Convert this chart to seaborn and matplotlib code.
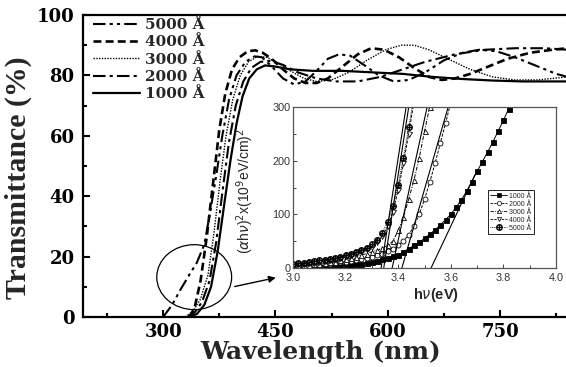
import matplotlib
matplotlib.use('Agg')
import matplotlib.pyplot as plt
import seaborn as sns
import pandas as pd
from matplotlib.patches import Ellipse
from matplotlib.lines import Line2D
from matplotlib.ticker import MultipleLocator

# ---------------- main panel data: transmittance vs wavelength ----------------
labels = ['5000 Å', '4000 Å', '3000 Å', '2000 Å', '1000 Å']

wl_5000 = [300, 312, 323, 335, 345, 355, 363, 371, 379, 388, 398, 410, 422, 432, 445, 460, 475, 490, 505,
           520, 535, 550, 568, 588, 608, 628, 650, 675, 700, 722, 745, 770, 800, 825, 840]
T_5000 = [0, 4, 9, 14, 18, 24, 35, 47, 60, 72, 80, 84.5, 86.3, 86, 83, 79, 77, 78, 81.5,
          85.5, 87, 86.5, 83.5, 80, 78, 78.5, 81, 85, 87.5, 88.5, 88, 86, 83, 80.5, 79.5]

wl_4000 = [335, 342, 350, 358, 367, 375, 383, 392, 402, 413, 423, 433, 445, 460, 475, 490, 505, 520, 540,
           560, 578, 595, 615, 635, 655, 672, 690, 710, 735, 760, 790, 820, 840]
T_4000 = [0, 3, 12, 26, 45, 62, 74, 82, 86, 88, 88.3, 87.5, 85.5, 82, 79, 77.5, 77.5, 79, 83,
          87, 89, 88.5, 86, 82.5, 79.5, 78.5, 79, 80.5, 83, 85.5, 87.5, 88.5, 89]

wl_3000 = [330, 340, 350, 360, 368, 376, 384, 393, 403, 414, 426, 438, 455, 470, 488, 505, 525, 548, 572,
           597, 618, 635, 655, 680, 710, 740, 770, 800, 840]
T_3000 = [0, 2, 6, 14, 28, 45, 60, 72, 80, 84.5, 86.3, 86, 84, 81.5, 79, 78, 78.5, 81, 85,
          88.5, 90, 90, 88.5, 85.5, 82, 79.5, 78.5, 78.5, 79.5]

wl_2000 = [332, 342, 352, 362, 371, 380, 388, 397, 407, 418, 430, 442, 460, 480, 505, 530, 560, 590, 620,
           650, 690, 730, 770, 810, 840]
T_2000 = [0, 1.5, 5, 12, 25, 43, 58, 70, 78, 82.5, 84.5, 84.8, 83.5, 81, 79, 78, 78, 79.5, 82,
          84.5, 87, 88.5, 89, 89, 88.5]

wl_1000 = [335, 345, 355, 364, 373, 382, 390, 398, 406, 415, 425, 436, 448, 470, 500, 540, 580, 620, 660,
           700, 740, 780, 820, 840]
T_1000 = [0, 1, 4, 10, 22, 38, 52, 64, 73, 79, 82, 83.3, 83, 82, 81.5, 81.5, 81, 80.5, 79.5,
          78.8, 78.3, 78, 78, 78]

main_wl = [wl_5000, wl_4000, wl_3000, wl_2000, wl_1000]
main_T = [T_5000, T_4000, T_3000, T_2000, T_1000]
main_styles = [(0, (6, 2, 1.5, 2, 1.5, 2)), (0, (3, 1.6)), (0, (1, 1)), (0, (6, 2, 1.5, 2)), '-']
main_lw = [1.5, 1.9, 1.0, 1.5, 1.6]

x_ticks = [300, 450, 600, 750]
y_ticks = [0, 20, 40, 60, 80, 100]

# circle / arrow annotation (data coords)
circle_center = (341.5, 13.2)
circle_size = (100, 21.5)
arrow_tail = (392, 9.9)
arrow_head = (454, 13.2)

# ---------------- inset data: (alpha h nu)^2 vs h nu ----------------
inset_labels = ['1000 Å', '2000 Å', '3000 Å', '4000 Å', '5000 Å']

hv_1000 = [3.00, 3.02, 3.04, 3.06, 3.08, 3.10, 3.12, 3.14, 3.16, 3.18, 3.20, 3.22, 3.24, 3.26, 3.28, 3.30,
           3.32, 3.34, 3.36, 3.38, 3.40, 3.42, 3.44, 3.46, 3.48, 3.50, 3.52, 3.54, 3.56, 3.58, 3.60, 3.62,
           3.64, 3.66, 3.68, 3.70, 3.72, 3.74, 3.76, 3.78, 3.80, 3.82, 3.84]
a_1000 = [1, 1, 1.5, 1.5, 2, 2, 2.5, 3, 3.5, 4, 5, 6, 7, 8, 9.5, 11,
          13, 16, 19, 22, 25, 30, 36, 42, 48, 55, 63, 71, 80, 90, 100, 113,
          127, 143, 161, 180, 198, 216, 235, 255, 275, 297, 318]

hv_2000 = [3.00, 3.02, 3.04, 3.06, 3.08, 3.10, 3.12, 3.14, 3.16, 3.18, 3.20, 3.22, 3.24, 3.26, 3.28, 3.30,
           3.32, 3.34, 3.36, 3.38, 3.40, 3.42, 3.44, 3.46, 3.48, 3.50, 3.52, 3.54, 3.56, 3.58, 3.60]
a_2000 = [3, 3.5, 4, 4.5, 5, 6, 7, 8, 9, 10.5, 12, 13.5, 15, 17, 19, 21,
          24, 27, 31, 36, 42, 50, 62, 78, 100, 128, 160, 195, 232, 270, 308]

hv_3000 = [3.00, 3.02, 3.04, 3.06, 3.08, 3.10, 3.12, 3.14, 3.16, 3.18, 3.20, 3.22, 3.24, 3.26, 3.28, 3.30,
           3.32, 3.34, 3.36, 3.38, 3.40, 3.42, 3.44, 3.46, 3.48, 3.50, 3.52, 3.54]
a_3000 = [4, 4.5, 5, 6, 7, 8, 9, 10.5, 12, 14, 16, 18, 21, 24, 27, 30,
          33, 37, 42, 50, 70, 95, 128, 164, 205, 255, 300, 345]

hv_4000 = [3.00, 3.02, 3.04, 3.06, 3.08, 3.10, 3.12, 3.14, 3.16, 3.18, 3.20, 3.22, 3.24, 3.26, 3.28, 3.30,
           3.32, 3.34, 3.36, 3.38, 3.40, 3.42, 3.44, 3.46]
a_4000 = [6, 7, 8, 9, 10, 11.5, 13, 15, 17, 19.5, 22, 25, 28, 31, 35, 40,
          48, 60, 78, 105, 145, 195, 250, 310]

hv_5000 = [3.00, 3.02, 3.04, 3.06, 3.08, 3.10, 3.12, 3.14, 3.16, 3.18, 3.20, 3.22, 3.24, 3.26, 3.28, 3.30,
           3.32, 3.34, 3.36, 3.38, 3.40, 3.42, 3.44, 3.46]
a_5000 = [8, 9, 10, 11, 12.5, 14, 15.5, 17, 19, 21, 24, 27, 30, 34, 38, 44,
          53, 66, 86, 115, 155, 205, 262, 320]

inset_hv = [hv_1000, hv_2000, hv_3000, hv_4000, hv_5000]
inset_a = [a_1000, a_2000, a_3000, a_4000, a_5000]
inset_markers = ['s', 'o', '^', 'v', r'$\oplus$']
inset_fill = ['black', 'white', 'white', 'white', 'black']
inset_styles = ['-', (0, (3, 1.5)), (0, (4, 1.5, 1, 1.5)), (0, (3, 1.5)), (0, (1, 1))]

# linear extrapolation lines (band-gap fits): start/end hv and values
fit_hv0 = [3.525, 3.414, 3.377, 3.345, 3.335]
fit_hv1 = [3.70, 3.59, 3.51, 3.44, 3.43]
fit_a0 = [0, 0, 0, 0, 0]
fit_a1 = [182, 300, 300, 300, 300]

# ---------------- figure ----------------
sns.set_theme(style='ticks')
plt.rcParams['font.family'] = ['DejaVu Serif', 'DejaVu Sans']
plt.rcParams['mathtext.fontset'] = 'dejavusans'

fig = plt.figure(figsize=(5.66, 3.67), dpi=100)
fig.patch.set_facecolor('white')
ax = fig.add_axes([83 / 566, 50 / 367, 483 / 566, 302 / 367])
ax.set_facecolor('white')

for wl, T, ls, lw in zip(main_wl, main_T, main_styles, main_lw):
    df = pd.DataFrame({'wl': wl, 'T': T})
    sns.lineplot(data=df, x='wl', y='T', ax=ax, color='black', linestyle=ls, lw=lw,
                 estimator=None, sort=False)

ax.set_xlim(193, 838)
ax.set_ylim(0, 100)
ax.set_xticks(x_ticks)
ax.set_yticks(y_ticks)
ax.xaxis.set_minor_locator(MultipleLocator(75))
ax.yaxis.set_minor_locator(MultipleLocator(10))
ax.tick_params(which='both', direction='in', width=1.5, colors='black', labelsize=13)
ax.tick_params(axis='x', which='both', pad=4)
ax.tick_params(axis='y', which='both', pad=6)
ax.tick_params(which='major', length=5)
ax.tick_params(which='minor', length=3)
for lab in ax.get_xticklabels() + ax.get_yticklabels():
    lab.set_fontweight('bold')
    lab.set_family('DejaVu Serif')
for side in ['left', 'bottom', 'top']:
    ax.spines[side].set_linewidth(1.6)
    ax.spines[side].set_color('black')
ax.spines['right'].set_visible(False)

ax.set_xlabel('Wavelength (nm)', fontsize=18, fontweight='bold', family='DejaVu Serif')
ax.set_ylabel('Transmittance (%)', fontsize=21.5, fontweight='bold', family='Liberation Serif')
ax.xaxis.set_label_coords(0.493, -0.076)
ax.yaxis.set_label_coords(-0.105, 0.46)

handles = [Line2D([], [], color='black', linestyle=ls, lw=lw) for ls, lw in zip(main_styles, main_lw)]
leg = ax.legend(handles, labels, loc='upper left', bbox_to_anchor=(0.02, 0.99), frameon=False,
                handlelength=3.1, handletextpad=0.35, labelspacing=0.22, borderpad=0, borderaxespad=0,
                prop={'family': 'DejaVu Serif', 'weight': 'bold', 'size': 11})

ell = Ellipse(circle_center, circle_size[0], circle_size[1], fill=False, edgecolor='black', lw=0.9)
ax.add_patch(ell)
ax.annotate('', xy=arrow_head, xytext=arrow_tail,
            arrowprops=dict(arrowstyle='-|>', lw=1.0, color='black', mutation_scale=10))

# ---------------- inset ----------------
ins = fig.add_axes([293 / 566, (367 - 268) / 367, 263 / 566, 161 / 367])
ins.set_facecolor('white')
for hv, a, mk, fc, ls in zip(inset_hv, inset_a, inset_markers, inset_fill, inset_styles):
    df = pd.DataFrame({'hv': hv, 'a': a})
    ms = 4.5 if mk.startswith('$') else 3.6
    sns.lineplot(data=df, x='hv', y='a', ax=ins, color='black', linestyle=ls, lw=0.7,
                 marker=mk, markersize=ms, markerfacecolor=fc, markeredgecolor='black',
                 markeredgewidth=0.4 if mk.startswith('$') else 0.6, estimator=None, sort=False)
for h0, h1, y0, y1 in zip(fit_hv0, fit_hv1, fit_a0, fit_a1):
    df = pd.DataFrame({'hv': [h0, h1], 'a': [y0, y1]})
    sns.lineplot(data=df, x='hv', y='a', ax=ins, color='black', lw=0.8, estimator=None, sort=False)

ins.set_xlim(3.0, 4.0)
ins.set_ylim(0, 300)
ins.set_xticks([3.0, 3.2, 3.4, 3.6, 3.8, 4.0])
ins.set_yticks([0, 100, 200, 300])
ins.xaxis.set_minor_locator(MultipleLocator(0.1))
ins.yaxis.set_minor_locator(MultipleLocator(50))
ins.tick_params(which='both', direction='in', width=0.7, colors='#444444', labelsize=7.8, pad=2,
                labelcolor='#333333')
ins.tick_params(axis='x', which='both', pad=3.5)
ins.tick_params(which='major', length=3)
ins.tick_params(which='minor', length=2)
for lab in ins.get_xticklabels() + ins.get_yticklabels():
    lab.set_family('Liberation Sans')
for sp in ins.spines.values():
    sp.set_linewidth(0.9)
    sp.set_color('#555555')
ins.set_xlabel(r'h$\nu$(eV)', fontsize=10.5, fontweight='bold', family='Liberation Sans')
ins.set_ylabel(r'($\alpha$h$\nu$)$^2$x(10$^9$eV/cm)$^2$', fontsize=10, family='Liberation Sans')
ins.xaxis.set_label_coords(0.544, -0.11)
ins.yaxis.set_label_coords(-0.14, 0.48)

ihandles = [Line2D([], [], color='black', linestyle=ls, lw=0.6, marker=mk,
                   markersize=(4.5 if mk.startswith('$') else 3), markerfacecolor=fc,
                   markeredgecolor='black', markeredgewidth=0.4 if mk.startswith('$') else 0.5)
            for mk, fc, ls in zip(inset_markers, inset_fill, inset_styles)]
ileg = ins.legend(ihandles, inset_labels, loc='upper left', bbox_to_anchor=(0.741, 0.484),
                  frameon=True, fancybox=False, edgecolor='black', framealpha=1,
                  handlelength=2.4, handletextpad=0.3, labelspacing=0.15, borderpad=0.35,
                  borderaxespad=0, prop={'family': 'Liberation Sans', 'size': 5})
ileg.get_frame().set_linewidth(0.6)

fig.savefig('out.png', dpi=100, facecolor='white')
